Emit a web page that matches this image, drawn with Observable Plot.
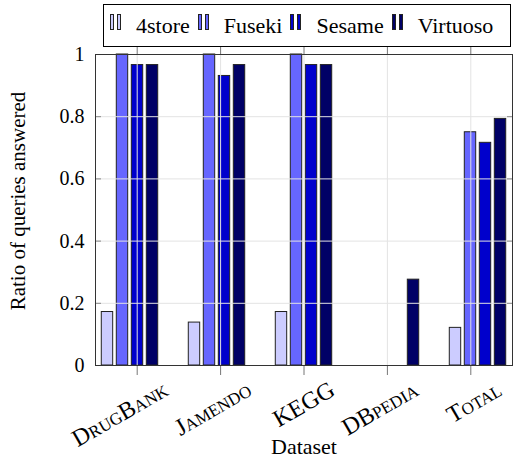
<!DOCTYPE html>
<html><head><meta charset="utf-8">
<script src="https://cdn.jsdelivr.net/npm/d3@7"></script>
<script src="https://cdn.jsdelivr.net/npm/@observablehq/plot@0.6"></script>
<style>
body{margin:0;background:#fff;}
#wrap{position:relative;width:514px;height:459px;overflow:hidden;}
#bars,#axes{position:absolute;left:0;top:0;}
#legend{position:absolute;left:103px;top:4px;width:406px;height:41px;border:1px solid #000;background:#fff;display:flex;align-items:center;font-family:"Liberation Serif","DejaVu Serif",serif;font-size:22px;color:#000;}
.item{display:flex;align-items:center;margin-left:8px;}
.item:first-child{margin-left:6px;}
.icon{display:flex;gap:3px;margin-right:15px;transform:translateY(-4px);}
.icon span{display:block;width:2px;height:14px;border:1px solid #222;}
.item > span{line-height:1;}
</style></head><body><div id="wrap"><div id="bars"></div><div id="axes"></div><div id="legend"></div></div>
<script>
const datasets = ["DrugBank", "Jamendo", "KEGG", "DBpedia", "Total"];
const series = ["4store", "Fuseki", "Sesame", "Virtuoso"];
const store4 = [0.172, 0.138, 0.172, 0, 0.121];
const fuseki = [1, 1, 1, 0, 0.75];
const sesame = [0.966, 0.931, 0.966, 0, 0.716];
const virtuoso = [0.966, 0.966, 0.966, 0.276, 0.793];
const colors = ["#ccccff", "#6666ff", "#0000cc", "#000066"];
const yTicks = [0, 0.2, 0.4, 0.6, 0.8, 1];
const yLabel = "Ratio of queries answered";
const xLabel = "Dataset";

const values = [store4, fuseki, sesame, virtuoso];
const data = [];
datasets.forEach((d, i) => series.forEach((s, j) => data.push({dataset: d, series: s, value: values[j][i]})));

const font = "'Liberation Serif', 'DejaVu Serif', serif";
const dims = {width: 514, height: 459, marginTop: 54, marginBottom: 94, marginLeft: 95, marginRight: 2};
const groupScale = {domain: datasets, paddingInner: 0.31, paddingOuter: 0.0515, round: false};
const yScale = {domain: [0, 1]};

// bars: one facet per dataset, one band per series inside it
const bars = Plot.plot({
  ...dims,
  style: {fontFamily: font, background: "transparent"},
  fx: {...groupScale, axis: null, label: null},
  x: {domain: series, paddingInner: 0.24, paddingOuter: 0.12, round: false, axis: null},
  y: {...yScale, axis: null},
  color: {domain: series, range: colors},
  marks: [
    Plot.barY(data, {fx: "dataset", x: "series", y: "value", fill: "series", stroke: "#222", strokeWidth: 1})
  ]
});
document.getElementById("bars").appendChild(bars);

// frame, grid, axes and labels drawn on top with the same group scale
const axes = Plot.plot({
  ...dims,
  style: {fontFamily: font, fontSize: "20px", background: "transparent", color: "#000"},
  x: {...groupScale, axis: null},
  y: {...yScale, axis: null},
  marks: [
    Plot.gridY(yTicks.slice(1, -1), {stroke: "#e3e3e3", strokeOpacity: 1}),
    Plot.gridX(datasets, {stroke: "#e3e3e3", strokeOpacity: 1}),
    Plot.axisY(yTicks, {anchor: "left", tickSize: -6, tickFormat: () => "", stroke: "#888", label: null}),
    Plot.axisY(yTicks, {anchor: "right", tickSize: -6, tickFormat: () => "", stroke: "#888", label: null}),
    Plot.axisY(yTicks, {anchor: "left", tickSize: 0, tickPadding: 11, tickFormat: d => String(d), fontSize: 20, fontFamily: font, label: null}),
    Plot.axisX(datasets, {anchor: "bottom", tickSize: 10, tickFormat: () => "", stroke: "#777", label: null}),
    Plot.axisX(datasets, {anchor: "top", tickSize: 10, tickFormat: () => "", stroke: "#777", label: null}),
    Plot.text(datasets, {x: d => d, text: d => d, frameAnchor: "bottom", textAnchor: "end", lineAnchor: "top", rotate: -30, dx: 24, dy: 14, fontVariant: "small-caps", fontSize: 24, fontFamily: font}),
    Plot.frame({stroke: "#333"}),
    Plot.text([yLabel], {frameAnchor: "left", textAnchor: "middle", lineAnchor: "middle", rotate: -90, dx: -77, dy: -9, fontSize: 21, fontFamily: font, text: d => d}),
    Plot.text([xLabel], {frameAnchor: "bottom", lineAnchor: "middle", dy: 81, fontSize: 22, fontFamily: font, text: d => d})
  ]
});
document.getElementById("axes").appendChild(axes);

const legend = document.getElementById("legend");
series.forEach((s, i) => {
  const item = document.createElement("div");
  item.className = "item";
  const icon = document.createElement("div");
  icon.className = "icon";
  for (let k = 0; k < 2; k++) {
    const b = document.createElement("span");
    b.style.background = colors[i];
    icon.appendChild(b);
  }
  const t = document.createElement("span");
  t.textContent = s;
  item.appendChild(icon);
  item.appendChild(t);
  legend.appendChild(item);
});
</script></body></html>
